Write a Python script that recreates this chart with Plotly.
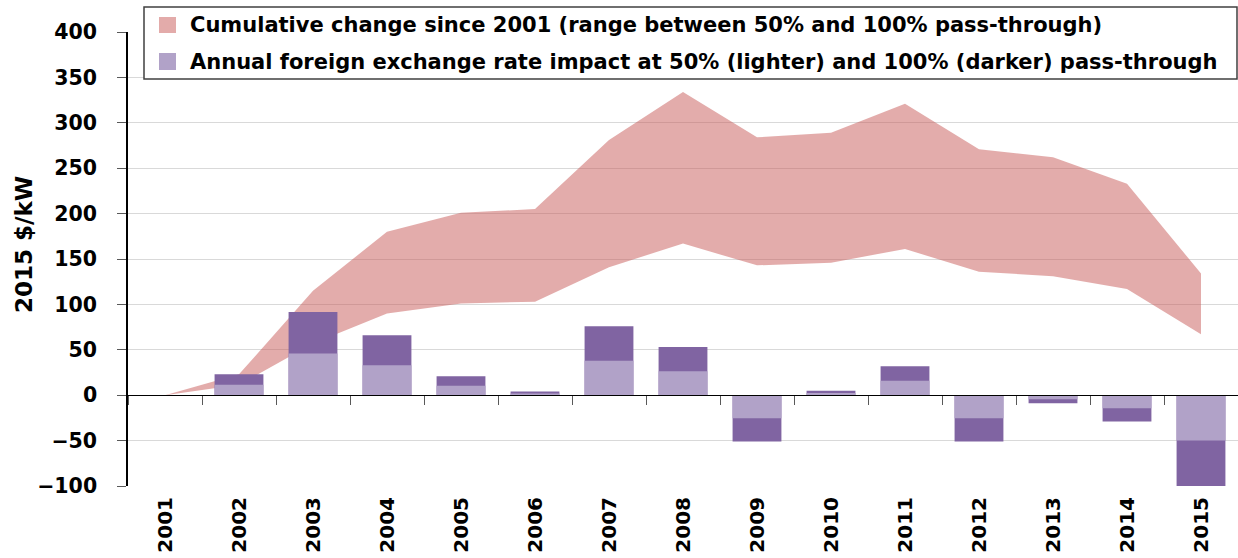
import plotly.graph_objects as go

# Years on the category axis
years = [str(y) for y in range(2001, 2016)]

# Annual foreign exchange rate impact (2015 $/kW)
impact_100 = [0, 23, 91.5, 66, 21, 4, 76, 53, -51, 5, 32, -51, -9, -29, -100]
impact_50 = [0, 11.5, 46, 33, 10.5, 2, 38, 26.5, -25.5, 2.5, 16, -25.5, -4.5, -14.5, -50]

# Cumulative change since 2001 at 100% and 50% pass-through (2015 $/kW)
cumulative_100 = [0, 23, 115, 180, 201, 205, 281, 334, 284, 289, 321, 271, 262, 233, 134]
cumulative_50 = [0, 11.5, 57, 90, 101, 103, 141, 167, 143, 146, 161, 136, 131, 117, 67]

legend_labels = [
    "Cumulative change since 2001 (range between 50% and 100% pass-through)",
    "Annual foreign exchange rate impact at 50% (lighter) and 100% (darker) pass-through",
]

BAND = "rgba(200, 90, 88, 0.5)"
BAND_SWATCH = "#E3ABAA"
LIGHT = "#B1A2C8"
DARK = "#8064A2"
FONT = "DejaVu Sans"

W, H = 1238, 558
L, R, T, B = 128, 0, 32, 72
PW, PH = W - L - R, H - T - B


def px_x(px):
    return (px - L) / PW


def px_y(py):
    return (H - B - py) / PH


fig = go.Figure()

# Band between the 50% and 100% cumulative curves
fig.add_trace(go.Scatter(
    x=years, y=cumulative_50, mode="lines", line=dict(width=0),
    hoverinfo="skip", showlegend=False, xaxis="x", yaxis="y",
))
fig.add_trace(go.Scatter(
    x=years, y=cumulative_100, mode="lines", line=dict(width=0),
    fill="tonexty", fillcolor=BAND, showlegend=False, xaxis="x", yaxis="y",
))

# Annual bars: 100% behind, 50% in front
fig.add_trace(go.Bar(
    x=years, y=impact_100, marker=dict(color=DARK, line=dict(width=0)),
    width=0.66, showlegend=False, xaxis="x2", yaxis="y",
))
fig.add_trace(go.Bar(
    x=years, y=impact_50, marker=dict(color=LIGHT, line=dict(width=0)),
    width=0.66, showlegend=False, xaxis="x2", yaxis="y",
))

shapes = [
    dict(type="rect", xref="paper", yref="paper",
         x0=px_x(144), x1=px_x(1237), y0=px_y(79), y1=px_y(7),
         line=dict(color="#404040", width=1.5), fillcolor="white", layer="above"),
    dict(type="rect", xref="paper", yref="paper",
         x0=px_x(159), x1=px_x(176), y0=px_y(33), y1=px_y(17),
         line=dict(width=0), fillcolor=BAND_SWATCH, layer="above"),
    dict(type="rect", xref="paper", yref="paper",
         x0=px_x(159), x1=px_x(176), y0=px_y(70), y1=px_y(53),
         line=dict(width=0), fillcolor=LIGHT, layer="above"),
]

annotations = [
    dict(text=legend_labels[0], xref="paper", yref="paper", x=px_x(188), y=px_y(25),
         xanchor="left", yanchor="middle", showarrow=False,
         font=dict(family=FONT, size=21, color="black", weight="bold")),
    dict(text=legend_labels[1], xref="paper", yref="paper", x=px_x(188), y=px_y(61.5),
         xanchor="left", yanchor="middle", showarrow=False,
         font=dict(family=FONT, size=21, color="black", weight="bold")),
    dict(text="2015 $/kW", xref="paper", yref="paper", x=px_x(24), y=px_y(245),
         xanchor="center", yanchor="middle", textangle=-90, showarrow=False,
         font=dict(family=FONT, size=23, color="black", weight="bold")),
]

fig.update_layout(
    width=W, height=H,
    margin=dict(l=L, r=R, t=T, b=B),
    paper_bgcolor="white", plot_bgcolor="white",
    barmode="overlay", bargap=0.34,
    font=dict(family=FONT, color="black"),
    xaxis=dict(
        type="category", categoryorder="array", categoryarray=years,
        range=[-0.5, 14.5], showgrid=False, showline=False, zeroline=False,
        ticks="", tickangle=-90, ticklabelstandoff=6,
        tickfont=dict(family=FONT, size=20, color="black", weight="bold"),
    ),
    xaxis2=dict(
        type="category", categoryorder="array", categoryarray=years,
        range=[-0.5, 14.5], overlaying="x", anchor="free", position=100 / 500,
        showgrid=False, zeroline=False, showline=True, linecolor="black", linewidth=1.3,
        ticks="outside", tickson="boundaries", ticklen=9, tickcolor="#595959", tickwidth=1.3,
        showticklabels=False,
    ),
    yaxis=dict(
        range=[-100, 400], dtick=50, tick0=0,
        showgrid=True, gridcolor="#D9D9D9", gridwidth=1.3,
        zeroline=False, showline=True, linecolor="black", linewidth=1.5,
        ticks="outside", ticklen=9, tickcolor="#595959", tickwidth=1.3,
        ticklabelstandoff=16,
        tickfont=dict(family=FONT, size=20.5, color="black", weight="bold"),
    ),
    shapes=shapes,
    annotations=annotations,
)

fig.write_html("out.html")
